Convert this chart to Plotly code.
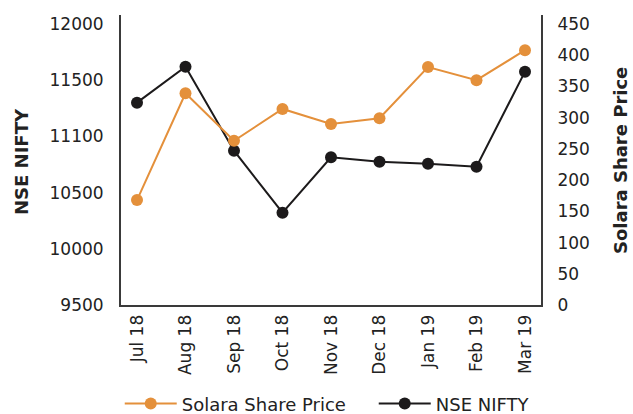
import plotly.graph_objects as go

months = ["Jul 18", "Aug 18", "Sep 18", "Oct 18", "Nov 18", "Dec 18", "Jan 19", "Feb 19", "Mar 19"]
solara = [168, 339, 263, 314, 290, 299, 381, 360, 408]
nifty = [11300, 11620, 10873, 10321, 10814, 10775, 10757, 10730, 11576]
left_tickvals = [9500, 10000, 10500, 11000, 11500, 12000]
left_ticktext = ["9500", "10000", "10500", "11100", "11500", "12000"]
right_tickvals = [0, 50, 100, 150, 200, 250, 300, 350, 400, 450]

orange = "#E4903B"
black = "#1C1A1B"
axis_col = "#3a3a3a"
font_family = "'DejaVu Sans', sans-serif"

fig = go.Figure()
fig.add_trace(go.Scatter(x=months, y=solara, name="Solara Share Price", yaxis="y2",
                         mode="lines+markers", line=dict(color=orange, width=2),
                         marker=dict(color=orange, size=12), legendwidth=187))
fig.add_trace(go.Scatter(x=months, y=nifty, name="NSE NIFTY", yaxis="y",
                         mode="lines+markers", line=dict(color=black, width=2),
                         marker=dict(color=black, size=12), legendwidth=160))

fig.update_layout(
    width=633, height=414,
    margin=dict(l=121, r=92, t=15, b=109, autoexpand=False),
    paper_bgcolor="white", plot_bgcolor="white",
    font=dict(family=font_family, size=17, color="#222"),
    showlegend=True,
    legend=dict(orientation="h", x=-0.003, xanchor="left", y=-0.341, yanchor="middle",
                font=dict(size=18, color="#222"), itemwidth=52),
    xaxis=dict(type="category", range=[-0.33, 8.33], showgrid=False, zeroline=False,
               showline=True, linecolor=axis_col, linewidth=2, tickangle=-90,
               ticks="", ticklabelstandoff=1, tickfont=dict(size=17), automargin=False),
    yaxis=dict(range=[9500, 12080], tickvals=left_tickvals, ticktext=left_ticktext,
               showgrid=False, zeroline=False, showline=True, linecolor=axis_col, linewidth=2,
               ticks="", ticklabelstandoff=12, tickfont=dict(size=17), automargin=False),
    yaxis2=dict(range=[0, 464.4], tickvals=right_tickvals, overlaying="y", side="right",
                showgrid=False, zeroline=False, showline=True, linecolor=axis_col, linewidth=2,
                ticks="", ticklabelstandoff=11, tickfont=dict(size=17), automargin=False),
    annotations=[
        dict(text="<b>NSE NIFTY</b>", xref="paper", yref="paper", x=(21.5 - 121) / 420, y=(305 - 161.5) / 290,
             textangle=-90, showarrow=False, font=dict(size=18, color="#222"),
             xanchor="center", yanchor="middle"),
        dict(text="<b>Solara Share Price</b>", xref="paper", yref="paper", x=(620 - 121) / 420, y=(305 - 161) / 290,
             textangle=-90, showarrow=False, font=dict(size=18, color="#222"),
             xanchor="center", yanchor="middle"),
    ],
)

fig.write_html("out.html", config={"displayModeBar": False},
               post_script="document.body.style.margin='0';document.body.style.overflow='hidden';")
